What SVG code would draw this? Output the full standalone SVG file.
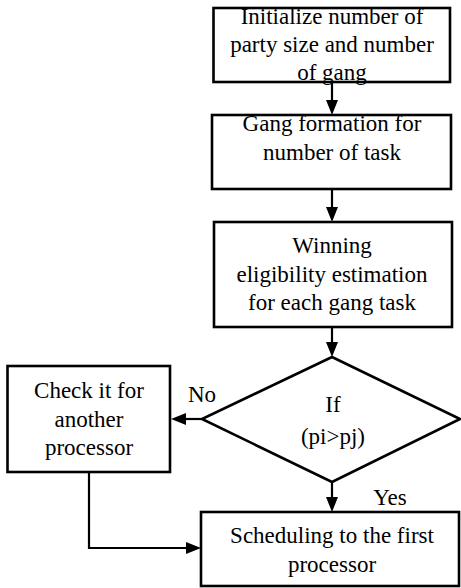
<svg xmlns="http://www.w3.org/2000/svg" width="461" height="588" viewBox="0 0 461 588" font-family="Liberation Serif, serif" font-size="23">
<style>
.box{fill:#fff;stroke:#000;stroke-width:2.6}
.c{fill:none;stroke:#000;stroke-width:2.2}
.h{fill:#000;stroke:none}
text{text-anchor:middle;fill:#000}
</style>
<g id="connectors">
<line class="c" x1="332" y1="82" x2="332" y2="101"/>
<polygon class="h" points="326,100 338,100 332,115"/>
<line class="c" x1="332" y1="189" x2="332" y2="208"/>
<polygon class="h" points="326,207 338,207 332,222"/>
<line class="c" x1="332" y1="327" x2="332" y2="343"/>
<polygon class="h" points="326,342 338,342 332,357"/>
<line class="c" x1="202" y1="419" x2="185" y2="419"/>
<polygon class="h" points="186,413 186,425 171,419"/>
<line class="c" x1="332" y1="482" x2="332" y2="498"/>
<polygon class="h" points="326,497 338,497 332,512"/>
<polyline class="c" points="89,472 89,548 187,548"/>
<polygon class="h" points="186,542 186,554 201,548"/>
<text x="202" y="402">No</text>
<text x="390" y="505">Yes</text>
</g>
<g id="n1">
<rect class="box" x="213.5" y="8" width="236.5" height="74"/>
<text x="332" y="24">Initialize number of</text>
<text x="332" y="52">party size and number</text>
<text x="332" y="80">of gang</text>
</g>
<g id="n2">
<rect class="box" x="212" y="115" width="239" height="74"/>
<text x="332" y="131">Gang formation for</text>
<text x="332" y="160">number of task</text>
</g>
<g id="n3">
<rect class="box" x="214" y="222" width="238" height="105"/>
<text x="332" y="253">Winning</text>
<text x="332" y="282">eligibility estimation</text>
<text x="332" y="310">for each gang task</text>
</g>
<g id="n4">
<polygon class="box" points="332,357 460,419 332,482 202,419"/>
<text x="333" y="412">If</text>
<text x="333" y="444">(pi&gt;pj)</text>
</g>
<g id="n5">
<rect class="box" x="7.5" y="366" width="162.5" height="106"/>
<text x="89" y="398">Check it for</text>
<text x="89" y="427">another</text>
<text x="89" y="455">processor</text>
</g>
<g id="n6">
<rect class="box" x="201" y="512" width="258" height="74"/>
<text x="332" y="543">Scheduling to the first</text>
<text x="332" y="572">processor</text>
</g>
</svg>
